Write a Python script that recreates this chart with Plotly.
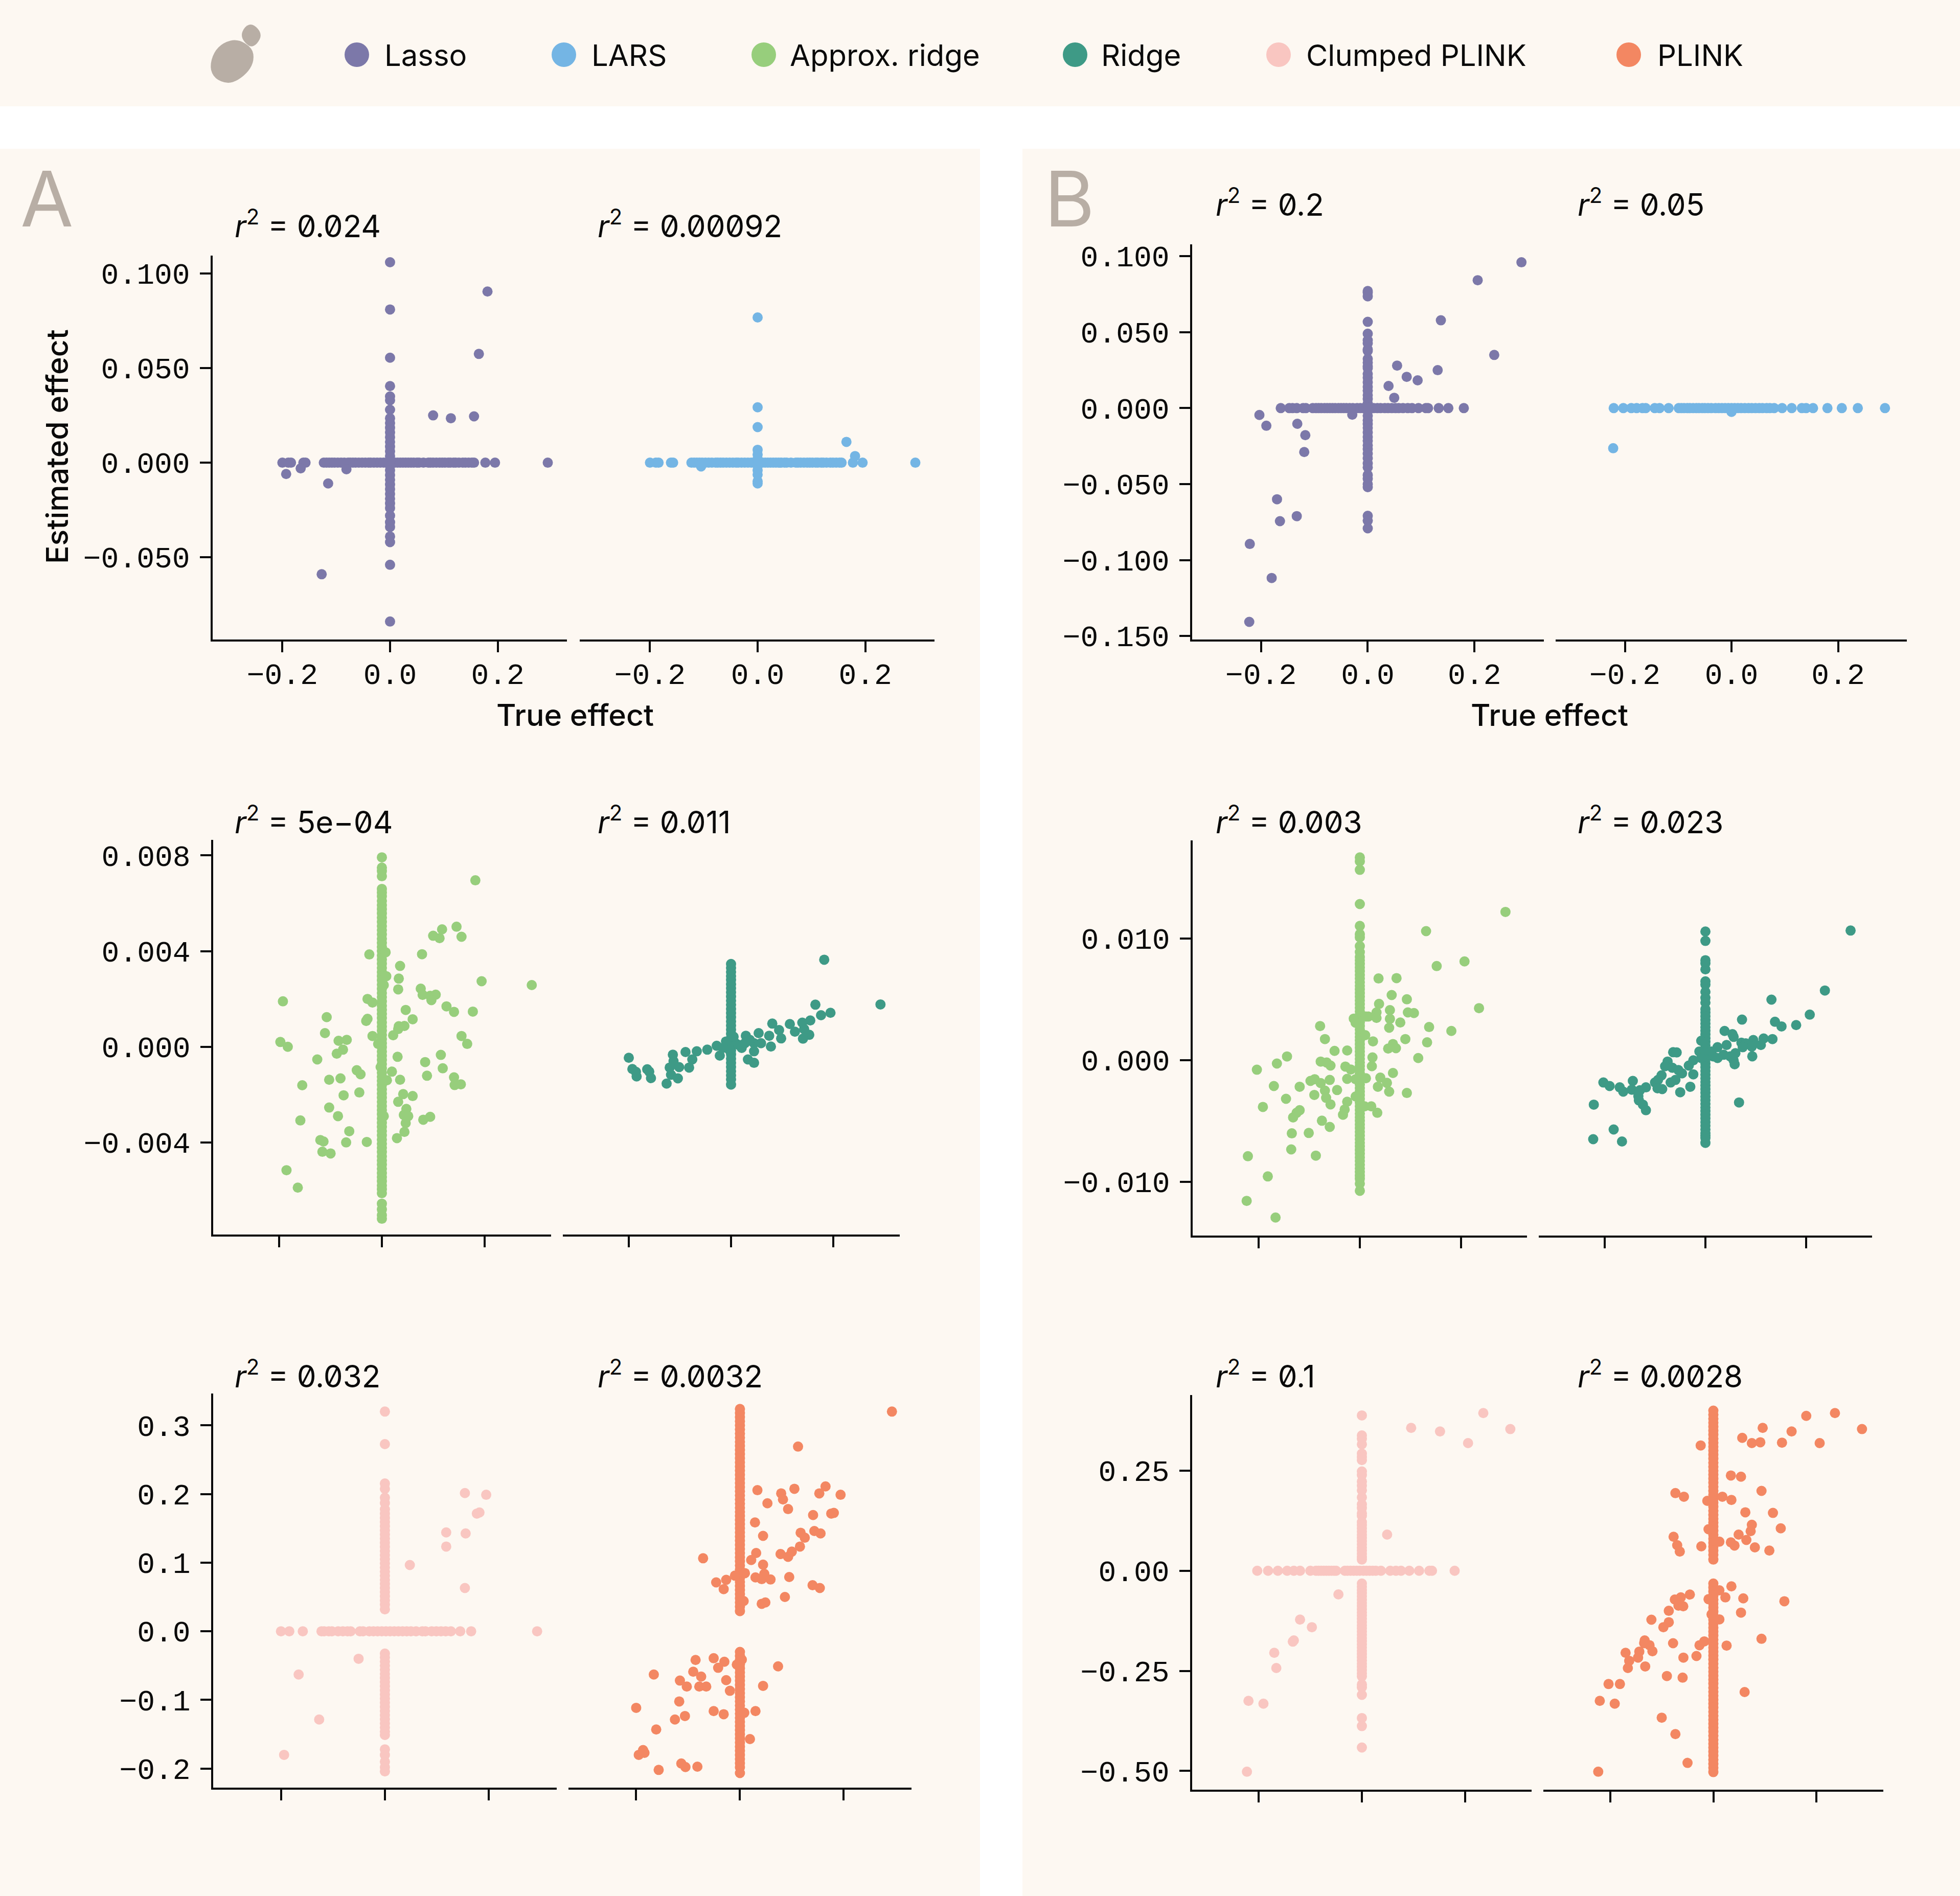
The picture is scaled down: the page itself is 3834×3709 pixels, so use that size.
import plotly.graph_objects as go

W = 3834
H = 3709

# method names and colours
methods = ["Lasso", "LARS", "Approx. ridge", "Ridge", "Clumped PLINK", "PLINK"]
colors = ["#7C78A9", "#74B5E4", "#97CE7C", "#3E9A86", "#F9C6C1", "#F38762"]

# r2 labels, column A then column B
r2_a = ["0.024", "0.00092", "5e−04", "0.011", "0.032", "0.0032"]
r2_b = ["0.2", "0.05", "0.003", "0.023", "0.1", "0.0028"]

# tick labels
x_ticks = [-0.2, 0.0, 0.2]
x_labels = ["−0.2", "0.0", "0.2"]
y_ticks_a1 = [0.1, 0.05, 0.0, -0.05]
y_labels_a1 = ["0.100", "0.050", "0.000", "−0.050"]
y_ticks_b1 = [0.1, 0.05, 0.0, -0.05, -0.1, -0.15]
y_labels_b1 = ["0.100", "0.050", "0.000", "−0.050", "−0.100", "−0.150"]
y_ticks_a2 = [0.008, 0.004, 0.0, -0.004]
y_labels_a2 = ["0.008", "0.004", "0.000", "−0.004"]
y_ticks_b2 = [0.01, 0.0, -0.01]
y_labels_b2 = ["0.010", "0.000", "−0.010"]
y_ticks_a3 = [0.3, 0.2, 0.1, 0.0, -0.1, -0.2]
y_labels_a3 = ["0.3", "0.2", "0.1", "0.0", "−0.1", "−0.2"]
y_ticks_b3 = [0.25, 0.0, -0.25, -0.5]
y_labels_b3 = ["0.25", "0.00", "−0.25", "−0.50"]

# points on y = 0 (true effects)
zero_a = [-0.200, -0.189, -0.184, -0.161, -0.157, -0.123, -0.118, -0.113, -0.108, -0.103, -0.097, -0.091,
          -0.085, -0.078, -0.074, -0.069, -0.064, -0.058, -0.052, -0.046, -0.040, -0.036, -0.030, -0.024,
          -0.018, -0.012, -0.007, -0.003, 0.004, 0.009, 0.014, 0.019, 0.024, 0.029, 0.034, 0.039, 0.044,
          0.050, 0.054, 0.062, 0.071, 0.075, 0.080, 0.086, 0.092, 0.097, 0.102, 0.108, 0.112, 0.118, 0.122,
          0.128, 0.135, 0.140, 0.146, 0.152, 0.156, 0.177, 0.195, 0.293]
zero_b_lasso = [-0.163, -0.147, -0.141, -0.133, -0.121, -0.116, -0.103, -0.097, -0.092, -0.087, -0.081, -0.076,
                -0.071, -0.066, -0.061, -0.055, -0.050, -0.045, -0.040, -0.034, -0.028, -0.020, -0.014, -0.008,
                0.005, 0.011, 0.018, 0.024, 0.032, 0.038, 0.045, 0.052, 0.058, 0.066, 0.075, 0.083, 0.095,
                0.109, 0.113, 0.133, 0.151, 0.180]
zero_b_lars = [-0.221, -0.203, -0.188, -0.178, -0.167, -0.161, -0.144, -0.135, -0.118, -0.099, -0.094, -0.089,
               -0.083, -0.078, -0.072, -0.066, -0.061, -0.055, -0.050, -0.044, -0.038, -0.030, -0.024, -0.018,
               -0.012, -0.006, 0.000, 0.006, 0.012, 0.018, 0.025, 0.032, 0.038, 0.045, 0.052, 0.058, 0.066,
               0.072, 0.080, 0.095, 0.113, 0.132, 0.140, 0.153, 0.180, 0.207, 0.237, 0.288]
zero_a_clumped = [-0.200, -0.184, -0.158, -0.122, -0.117, -0.108, -0.102, -0.090, -0.081, -0.072, -0.066, -0.048,
                  -0.042, -0.030, -0.022, -0.014, -0.006, 0.002, 0.010, 0.018, 0.026, 0.034, 0.042, 0.050,
                  0.060, 0.072, 0.078, 0.090, 0.099, 0.108, 0.117, 0.127, 0.145, 0.166, 0.293]
zero_b_clumped = [-0.203, -0.182, -0.163, -0.145, -0.132, -0.120, -0.100, -0.089, -0.084, -0.079, -0.074, -0.069,
                  -0.064, -0.059, -0.054, -0.050, -0.033, -0.028, -0.022, -0.016, -0.010, -0.004, 0.003, 0.009,
                  0.015, 0.021, 0.027, 0.037, 0.055, 0.066, 0.076, 0.092, 0.111, 0.131, 0.136, 0.180]

# points on x = 0 (estimated effects)
lasso_a_v = [0.106, 0.081, 0.0555, 0.0405, 0.035, 0.033, 0.028, 0.0235, 0.021, 0.0185, 0.016, 0.0135, 0.011, 0.0085,
             0.006, 0.0035, 0.001, -0.0015, -0.004, -0.0065, -0.009, -0.0115, -0.014, -0.0165, -0.019, -0.0215,
             -0.024, -0.028, -0.0315, -0.034, -0.039, -0.042, -0.054, -0.084]
lars_a_v = [0.0768, 0.0293, 0.0188, 0.0068, 0.0043, 0.002, -0.0015, -0.004, -0.0063, -0.0098, -0.011]
lasso_b_v = [0.0771, 0.0761, 0.0736, 0.0568, 0.049, 0.0447, 0.0427, 0.0387, 0.0377, 0.0324, 0.030, 0.0276, 0.0264,
             0.0226, 0.020, 0.017, 0.014, 0.0115, 0.0085, 0.006, 0.003, 0.0005, -0.002, -0.005, -0.008, -0.0105,
             -0.013, -0.016, -0.019, -0.0215, -0.0245, -0.027, -0.03, -0.033, -0.0364, -0.039, -0.044, -0.0465,
             -0.050, -0.052, -0.0709, -0.0741, -0.0791]
approx_a_v = [0.00792, 0.00749, 0.00735, 0.00713, 0.0066, 0.00645, 0.0063, 0.0061, 0.00592, 0.00575, 0.00558, 0.0054,
              0.00522, 0.00505, 0.00488, 0.0047, 0.00452, 0.00435, 0.00418, 0.004, 0.00382, 0.00365, 0.00348, 0.0033,
              0.00312, 0.00295, 0.00278, 0.0026, 0.00242, 0.00225, 0.00208, 0.0019, 0.00172, 0.00155, 0.00138, 0.0012,
              0.00102, 0.00085, 0.00068, 0.0005, 0.00032, 0.00015, -0.00002, -0.0002, -0.00038, -0.00055, -0.00072,
              -0.0009, -0.00108, -0.00125, -0.00142, -0.0016, -0.00178, -0.00195, -0.00212, -0.0023, -0.00248, -0.00265,
              -0.00282, -0.003, -0.00318, -0.00335, -0.00352, -0.0037, -0.00388, -0.00405, -0.00422, -0.0044, -0.00458,
              -0.00475, -0.00492, -0.0051, -0.00528, -0.00545, -0.00562, -0.0058, -0.00596, -0.00612, -0.00656, -0.0068,
              -0.00704, -0.00719]
ridge_a_v = [0.00346, 0.0033, 0.00313, 0.00296, 0.0028, 0.00262, 0.00245, 0.00228, 0.0021, 0.00193, 0.00176, 0.00158,
             0.00141, 0.00124, 0.00106, 0.00089, 0.00072, 0.00054, 0.00037, 0.0002, 0.00002, -0.00015, -0.00032, -0.0005,
             -0.00067, -0.00084, -0.00102, -0.00119, -0.00136, -0.00158]
approx_b_v = [0.01665, 0.01633, 0.01563, 0.01282, 0.01102, 0.01035, 0.01008, 0.00936, 0.00887, 0.00847, 0.0082, 0.0079,
              0.0076, 0.0073, 0.007, 0.0067, 0.0064, 0.0061, 0.0058, 0.0055, 0.0052, 0.0049, 0.0046, 0.0043, 0.004, 0.0037,
              0.0034, 0.0031, 0.0028, 0.0025, 0.0022, 0.0019, 0.0016, 0.0013, 0.001, 0.0007, 0.0004, 0.0001, -0.0002,
              -0.0005, -0.0008, -0.0011, -0.0014, -0.0017, -0.002, -0.0023, -0.0026, -0.0029, -0.0032, -0.0035, -0.0038,
              -0.0041, -0.0044, -0.0047, -0.005, -0.0053, -0.0056, -0.0059, -0.0062, -0.0065, -0.0068, -0.0071, -0.0074,
              -0.0077, -0.008, -0.0083, -0.0086, -0.0089, -0.0092, -0.0095, -0.00976, -0.01016, -0.01075]
ridge_b_v = [0.01056, 0.00979, 0.0082, 0.00794, 0.00745, 0.00646, 0.0062, 0.0056, 0.00512, 0.00472, 0.00418, 0.0039,
             0.0036, 0.0033, 0.003, 0.0027, 0.0024, 0.0021, 0.0018, 0.0015, 0.0012, 0.0009, 0.0006, 0.0003, 0.0, -0.0003,
             -0.0006, -0.0009, -0.0012, -0.0015, -0.0018, -0.0021, -0.0024, -0.0027, -0.003, -0.0033, -0.0036, -0.0039,
             -0.0042, -0.0045, -0.0048, -0.0051, -0.0054, -0.0057, -0.006, -0.0062, -0.0064, -0.00681]
clumped_a_v = [0.32, 0.2726, 0.2153, 0.2075, 0.1946, 0.187, 0.1776, 0.1714, 0.165, 0.159, 0.153, 0.147, 0.141, 0.135,
               0.129, 0.123, 0.117, 0.111, 0.105, 0.099, 0.093, 0.087, 0.081, 0.075, 0.069, 0.063, 0.057, 0.051, 0.045,
               0.039, 0.032, -0.0325, -0.038, -0.044, -0.05, -0.056, -0.062, -0.068, -0.074, -0.08, -0.086, -0.092,
               -0.098, -0.104, -0.11, -0.116, -0.122, -0.128, -0.134, -0.14, -0.146, -0.151, -0.172, -0.18, -0.19,
               -0.198, -0.204]
plink_a_v = [0.3237, 0.318, 0.312, 0.306, 0.3, 0.294, 0.288, 0.282, 0.276, 0.27, 0.264, 0.258, 0.252, 0.246, 0.24, 0.234,
             0.228, 0.222, 0.216, 0.21, 0.204, 0.198, 0.192, 0.186, 0.18, 0.174, 0.168, 0.162, 0.156, 0.15, 0.144, 0.138,
             0.132, 0.126, 0.12, 0.114, 0.108, 0.102, 0.096, 0.09, 0.084, 0.078, 0.072, 0.066, 0.06, 0.054, 0.048, 0.042,
             0.036, 0.0294, -0.03, -0.036, -0.042, -0.048, -0.054, -0.06, -0.066, -0.072, -0.078, -0.084, -0.09, -0.096,
             -0.102, -0.108, -0.114, -0.12, -0.126, -0.132, -0.138, -0.144, -0.15, -0.156, -0.162, -0.168, -0.174, -0.18,
             -0.186, -0.192, -0.198, -0.2065]
clumped_b_v = [0.388, 0.338, 0.33, 0.316, 0.2926, 0.2837, 0.2766, 0.248, 0.239, 0.223, 0.2128, 0.201, 0.1835, 0.166,
               0.157, 0.1436, 0.1374, 0.1215, 0.114, 0.106, 0.098, 0.09, 0.082, 0.074, 0.066, 0.058, 0.05, 0.042, 0.035,
               0.028, -0.032, -0.04, -0.048, -0.056, -0.064, -0.072, -0.08, -0.088, -0.096, -0.104, -0.112, -0.12, -0.128,
               -0.136, -0.144, -0.152, -0.16, -0.168, -0.176, -0.184, -0.192, -0.2, -0.208, -0.216, -0.224, -0.232, -0.24,
               -0.248, -0.256, -0.264, -0.284, -0.291, -0.31, -0.368, -0.388, -0.4415]
plink_b_v = [0.40, 0.39, 0.38, 0.37, 0.36, 0.35, 0.34, 0.33, 0.32, 0.31, 0.30, 0.29, 0.28, 0.27, 0.26, 0.25, 0.24, 0.23,
             0.22, 0.21, 0.20, 0.19, 0.18, 0.17, 0.16, 0.15, 0.14, 0.13, 0.12, 0.11, 0.10, 0.09, 0.08, 0.07, 0.06, 0.05,
             0.04, 0.028, -0.032, -0.042, -0.052, -0.062, -0.072, -0.082, -0.092, -0.102, -0.112, -0.122, -0.132, -0.142,
             -0.152, -0.162, -0.172, -0.182, -0.192, -0.202, -0.212, -0.222, -0.232, -0.242, -0.252, -0.262, -0.272,
             -0.282, -0.292, -0.302, -0.312, -0.322, -0.332, -0.342, -0.352, -0.362, -0.372, -0.382, -0.392, -0.402,
             -0.412, -0.422, -0.432, -0.442, -0.452, -0.462, -0.472, -0.482, -0.492, -0.503]

# remaining points as (true, estimated)
lasso_a_off = [(-0.127, -0.059), (-0.193, -0.006), (-0.166, -0.003), (-0.115, -0.011), (-0.081, -0.0035), (0.080, 0.025),
               (0.113, 0.0235), (0.156, 0.0245), (0.165, 0.0575), (0.181, 0.0905)]
lars_a_off = [(-0.105, -0.002), (0.165, 0.011), (0.181, 0.0035)]
lasso_b_off = [(-0.203, -0.0045), (-0.190, -0.0116), (-0.132, -0.0103), (-0.117, -0.0178), (-0.119, -0.0289),
               (-0.170, -0.060), (-0.1645, -0.0744), (-0.133, -0.0711), (-0.221, -0.0894), (-0.180, -0.1118),
               (-0.222, -0.1407), (-0.029, -0.0043), (0.0496, 0.0068), (0.039, 0.0146), (0.073, 0.0206), (0.0935, 0.0183),
               (0.055, 0.028), (0.131, 0.025), (0.137, 0.0578), (0.237, 0.035), (0.206, 0.0842), (0.288, 0.096)]
lars_b_off = [(-0.222, -0.0264), (0.0, -0.0025)]
approx_a_off = [(-0.193, 0.0019), (-0.198, 0.0002), (-0.1835, 0.0), (-0.1076, 0.00124), (-0.111, 0.00057), (-0.0844, 0.00025),
                (-0.0685, 0.00029), (-0.0758, -0.00012), (-0.088, -0.00029), (-0.126, -0.00053), (-0.049, -0.00098),
                (-0.0416, -0.00115), (-0.1028, -0.00138), (-0.0807, -0.00132), (-0.1553, -0.00161), (-0.0746, -0.00203),
                (-0.044, -0.00191), (-0.1028, -0.00254), (-0.0856, -0.0029), (-0.159, -0.00308), (-0.0636, -0.00353),
                (-0.12, -0.0039), (-0.1138, -0.00396), (-0.0697, -0.004), (-0.0294, -0.00398), (-0.116, -0.00439),
                (-0.1, -0.00446), (-0.186, -0.00516), (-0.164, -0.00589), (-0.0245, 0.00386), (0.0073, 0.00395),
                (0.0086, 0.00295), (0.0355, 0.00338), (0.033, 0.00285), (0.0037, 0.00258), (0.0318, 0.0024), (-0.028, 0.002),
                (-0.0183, 0.00185), (-0.028, 0.00117), (-0.0306, 0.00108), (-0.0183, 0.00045), (-0.0073, 0.00012),
                (0.033, 0.00086), (0.044, 0.00087), (0.0318, 0.00074), (0.022, 0.00048), (0.0465, 0.00154), (0.06, 0.00115),
                (0.0306, -0.00042), (-0.0024, -0.00085), (0.0196, -0.00104), (0.0098, -0.0014), (0.0355, -0.00138),
                (0.0416, -0.00198), (0.06, -0.00206), (0.0318, -0.0023), (0.0477, -0.0026), (0.0428, -0.00285),
                (0.0514, -0.0029), (0.0465, -0.00319), (0.044, -0.00356), (0.0294, -0.00382), (0.0037, -0.0029),
                (0.0807, -0.00305), (0.0942, -0.00293), (0.0844, -0.00064), (0.088, -0.00121), (0.115, -0.00034),
                (0.1187, -0.0009), (0.1407, -0.00128), (0.1419, -0.0016), (0.154, -0.00157), (0.1553, 0.00045),
                (0.1664, 0.00012), (0.0783, 0.00387), (0.1, 0.00464), (0.1125, 0.00454), (0.1174, 0.00491), (0.1456, 0.00502),
                (0.1553, 0.0046), (0.1823, 0.00696), (0.1945, 0.00274), (0.2923, 0.00258), (0.0758, 0.00243), (0.0795, 0.00217),
                (0.0942, 0.00213), (0.105, 0.00218), (0.0966, 0.00195), (0.126, 0.00169), (0.1407, 0.00146), (0.1774, 0.00147)]
ridge_a_off = [(0.1823, 0.00364), (0.2923, 0.00177), (0.165, 0.00176), (0.176, 0.00132), (0.1945, 0.00142), (0.155, 0.0011),
               (0.1394, 0.00101), (0.115, 0.00095), (0.0807, 0.00097), (0.054, 0.00057), (0.094, 0.0007), (0.125, 0.00063),
               (0.143, 0.00074), (0.153, 0.0005), (0.1407, 0.00034), (0.0746, 0.00046), (0.098, 0.00035), (0.078, 0.00001),
               (0.029, 0.00046), (0.045, 0.00015), (0.0587, 0.00015), (0.045, -0.00019), (0.0208, -0.00005), (0.033, -0.00053),
               (0.045, -0.00067), (-0.0098, 0.00022), (-0.028, 0.00004), (-0.022, -0.00037), (-0.0465, -0.00012),
               (-0.067, -0.00019), (-0.089, -0.00022), (-0.1138, -0.00033), (-0.0758, -0.00053), (-0.1125, -0.0006),
               (-0.12, -0.00087), (-0.1015, -0.00085), (-0.082, -0.00087), (-0.1174, -0.00117), (-0.104, -0.00132),
               (-0.126, -0.00154), (-0.1566, -0.00131), (-0.164, -0.00094), (-0.16, -0.00104), (-0.1847, -0.00124),
               (-0.186, -0.00105), (-0.193, -0.00093), (-0.2, -0.00046), (0.0086, 0.00015), (0.0147, 0.00008), (0.027, 0.00015),
               (0.0367, 0.00029), (-0.0037, -0.00012), (-0.016, -0.00005), (0.005, 0.00042)]
approx_b_off = [(0.288, 0.01217), (0.131, 0.01059), (0.207, 0.0081), (0.152, 0.00772), (0.2357, 0.00426), (0.037, 0.0067),
                (0.0726, 0.00673), (0.063, 0.00534), (0.093, 0.00499), (0.038, 0.00461), (0.0595, 0.0041), (0.033, 0.00391),
                (0.095, 0.00391), (0.107, 0.00386), (0.0167, 0.00357), (0.012, 0.00357), (0.0595, 0.00338), (0.033, 0.00346),
                (0.08, 0.00308), (0.058, 0.00265), (0.137, 0.00271), (0.181, 0.00239), (-0.012, 0.0034), (-0.0083, 0.00306),
                (-0.0786, 0.00279), (0.0107, 0.00204), (-0.069, 0.00172), (0.026, 0.00153), (0.09, 0.00172), (0.133, 0.00145),
                (0.0655, 0.00131), (0.056, 0.00094), (0.0714, 0.00097), (-0.05, 0.00075), (-0.025, 0.00078), (-0.144, 0.00029),
                (0.1155, 0.00016), (0.025, 0.00021), (-0.0774, -0.00013), (-0.0655, -0.00021), (-0.164, -0.00029), (-0.058, -0.00046),
                (0.0238, -0.00051), (-0.0286, -0.00054), (-0.0179, -0.00078), (-0.2036, -0.0008), (0.0655, -0.00107),
                (0.0405, -0.00145), (0.012, -0.0015), (-0.025, -0.00155), (-0.0083, -0.00158), (-0.0893, -0.00158),
                (-0.0976, -0.00172), (-0.0595, -0.00164), (-0.0774, -0.0019), (0.0536, -0.00188), (-0.119, -0.0022),
                (-0.17, -0.00214), (0.0357, -0.0022), (-0.069, -0.00252), (-0.045, -0.00247), (0.058, -0.0026), (0.093, -0.00271),
                (-0.09, -0.00287), (-0.0667, -0.00311), (-0.146, -0.00319), (-0.0083, -0.003), (-0.025, -0.00343),
                (-0.058, -0.00365), (0.0095, -0.00381), (0.0226, -0.00381), (-0.1917, -0.00386), (-0.03, -0.00407),
                (-0.119, -0.00413), (-0.125, -0.00434), (0.0345, -0.00434), (-0.0333, -0.0045), (-0.132, -0.00472),
                (-0.075, -0.00499), (-0.0595, -0.0055), (-0.101, -0.006), (-0.1345, -0.00603), (-0.1357, -0.00735),
                (-0.087, -0.00786), (-0.2214, -0.00791), (-0.182, -0.00957), (-0.2238, -0.01158), (-0.1667, -0.01295)]
ridge_b_off = [(0.288, 0.01064), (0.237, 0.00571), (0.131, 0.00496), (0.207, 0.00373), (0.0726, 0.00332), (0.138, 0.00314),
               (0.151, 0.00276), (0.18, 0.00287), (0.038, 0.00239), (0.0536, 0.00212), (0.056, 0.0019), (0.133, 0.00172),
               (0.1155, 0.00177), (0.095, 0.00164), (0.0714, 0.00142), (0.08, 0.00137), (0.11, 0.00123), (0.092, 0.0011),
               (0.074, 0.00105), (0.042, 0.00123), (0.024, 0.00105), (0.0595, 0.00056), (0.093, 0.0003), (0.049, 0.0003),
               (0.036, 0.00043), (0.012, 0.0007), (0.0155, 0.0003), (0.024, 0.00016), (0.056, -0.00003), (0.058, -0.00035),
               (-0.0083, 0.00158), (-0.012, 0.0007), (-0.0083, 0.00016), (-0.064, 0.00064), (-0.057, 0.00062), (-0.033, -0.00046),
               (-0.024, -0.00003), (-0.024, -0.00118), (-0.075, -0.00013), (-0.08, -0.00051), (-0.0655, -0.00064),
               (-0.0536, -0.00083), (-0.0464, -0.0011), (-0.087, -0.00126), (-0.094, -0.00164), (-0.0595, -0.00164),
               (-0.069, -0.00185), (-0.1, -0.00185), (-0.095, -0.00233), (-0.0857, -0.00239), (-0.03, -0.0022), (-0.05, -0.00265),
               (-0.118, -0.00225), (-0.144, -0.00172), (-0.17, -0.00225), (-0.2024, -0.00185), (-0.19, -0.00214),
               (-0.163, -0.0026), (-0.146, -0.00244), (-0.13, -0.00249), (-0.133, -0.00298), (-0.132, -0.00332),
               (-0.124, -0.00367), (-0.118, -0.00413), (-0.2214, -0.00367), (-0.182, -0.00571), (-0.2226, -0.00651),
               (-0.1655, -0.0067), (0.0667, -0.00349)]
clumped_a_off = [(-0.194, -0.18), (-0.1265, -0.1285), (-0.166, -0.063), (-0.0506, -0.04), (0.048, 0.0965), (0.118, 0.1234),
                 (0.118, 0.144), (0.1554, 0.1425), (0.154, 0.063), (0.177, 0.1714), (0.182, 0.173), (0.154, 0.2013), (0.195, 0.1988)]
plink_a_off = [(0.293, 0.32), (0.112, 0.269), (0.165, 0.211), (0.105, 0.2075), (0.0337, 0.2055), (0.0795, 0.2008), (0.153, 0.2008),
               (0.194, 0.1988), (0.083, 0.192), (0.053, 0.1864), (0.0928, 0.178), (0.141, 0.1693), (0.181, 0.1724), (0.176, 0.1714),
               (0.029, 0.1585), (0.117, 0.1435), (0.1434, 0.146), (0.1554, 0.1425), (0.125, 0.1363), (0.0446, 0.139), (0.1157, 0.1234),
               (0.1, 0.116), (0.0783, 0.1125), (0.0928, 0.1084), (0.0313, 0.114), (-0.071, 0.1063), (0.0217, 0.1038), (0.0446, 0.097),
               (0.0096, 0.0847), (0.047, 0.0836), (0.03, 0.0785), (0.042, 0.076), (0.059, 0.0754), (0.095, 0.079), (-0.0096, 0.081),
               (-0.0265, 0.0749), (-0.0458, 0.0712), (-0.0313, 0.0614), (0.14, 0.0671), (0.154, 0.063), (0.0867, 0.05), (0.0072, 0.044),
               (0.042, 0.04), (0.049, 0.042), (-0.0506, -0.0392), (-0.0855, -0.0418), (-0.03, -0.0444), (0.0036, -0.0413),
               (-0.006, -0.0485), (0.0735, -0.0511), (-0.042, -0.0532), (-0.09, -0.0589), (-0.166, -0.063), (-0.0747, -0.066),
               (-0.1157, -0.0718), (-0.0265, -0.0712), (-0.1024, -0.0805), (-0.0783, -0.0805), (-0.065, -0.0805), (0.0446, -0.0795),
               (-0.0193, -0.0867), (-0.117, -0.1022), (-0.2, -0.1115), (-0.0506, -0.1162), (-0.0313, -0.1208), (0.0084, -0.1187),
               (0.03, -0.1162), (-0.106, -0.1234), (-0.1253, -0.1285), (-0.1614, -0.143), (0.0193, -0.157), (-0.1867, -0.173),
               (-0.195, -0.18), (-0.184, -0.177), (-0.113, -0.1926), (-0.105, -0.1977), (-0.082, -0.1972), (-0.1566, -0.2019)]
clumped_b_off = [(-0.223, -0.502), (-0.22, -0.325), (-0.191, -0.332), (-0.166, -0.243), (-0.17, -0.205), (-0.134, -0.177),
                 (-0.132, -0.174), (-0.12, -0.122), (-0.097, -0.141), (-0.0455, -0.059), (0.049, 0.0904), (0.0956, 0.357),
                 (0.1516, 0.348), (0.206, 0.319), (0.2356, 0.394), (0.288, 0.354)]
plink_b_off = [(0.2356, 0.394), (0.18, 0.387), (0.288, 0.354), (0.0956, 0.357), (0.1516, 0.348), (0.056, 0.332), (0.0746, 0.319),
               (0.091, 0.321), (0.133, 0.32), (0.206, 0.319), (-0.0245, 0.313), (0.034, 0.238), (0.0536, 0.235), (0.0933, 0.1995),
               (-0.0735, 0.194), (-0.057, 0.185), (-0.0117, 0.1746), (0.0175, 0.185), (0.035, 0.177), (0.062, 0.146), (0.1155, 0.1445),
               (0.0746, 0.115), (0.0723, 0.099), (0.1306, 0.106), (-0.0093, 0.1037), (-0.077, 0.085), (0.049, 0.0904), (0.064, 0.077),
               (0.0117, 0.0727), (0.034, 0.071), (0.041, 0.063), (-0.07, 0.0638), (-0.0233, 0.061), (0.0805, 0.0585), (-0.065, 0.048),
               (0.1085, 0.0505), (0.035, -0.039), (0.0117, -0.0488), (-0.0455, -0.0594), (-0.063, -0.0665), (-0.0746, -0.0718),
               (-0.0676, -0.087), (-0.0583, -0.0887), (0.0233, -0.0665), (0.058, -0.069), (-0.0093, -0.071), (0.1376, -0.0762),
               (-0.0863, -0.1), (0.0536, -0.1046), (-0.0035, -0.109), (-0.12, -0.1223), (0.0117, -0.1215), (-0.0863, -0.1285),
               (-0.0968, -0.141), (-0.133, -0.174), (-0.134, -0.181), (-0.1236, -0.186), (-0.118, -0.201), (-0.078, -0.181),
               (-0.0268, -0.186), (-0.0175, -0.1764), (0.0257, -0.187), (0.0933, -0.17), (-0.17, -0.205), (-0.1434, -0.202),
               (-0.1458, -0.217), (-0.163, -0.225), (-0.1656, -0.243), (-0.132, -0.239), (-0.058, -0.217), (-0.0327, -0.213),
               (-0.09, -0.263), (-0.0595, -0.267), (-0.203, -0.283), (-0.181, -0.283), (-0.22, -0.325), (-0.191, -0.332),
               (0.0606, -0.303), (-0.1, -0.367), (-0.0735, -0.408), (-0.05, -0.48), (-0.223, -0.502)]

BG = "#FDF8F2"
GREY = "#B8AEA5"
INK = "#0A0A0A"
TEXT_FONT = "Inter"
MONO_FONT = "Liberation Mono"


def px(x, y):
    return x / W, 1 - y / H


def dom(a, b, size):
    return [a / size, b / size]


# pixel box of each panel: left, right, top, bottom, xrange, yrange, yticks, ylabels, xlabels, r2 label x, baseline
panels = [
    (0, 416, 1109, 500, 1251, (-0.3295, 0.3286), (-0.0935, 0.1095), y_ticks_a1, y_labels_a1, True, 459, 460, r2_a[0]),
    (1, 1134, 1828, 500, 1251, (-0.3305, 0.3286), (-0.0935, 0.1095), None, None, True, 1169, 460, r2_a[1]),
    (2, 417, 1078, 1643, 2415, (-0.329, 0.330), (-0.00785, 0.00865), y_ticks_a2, y_labels_a2, False, 459, 1626, r2_a[2]),
    (3, 1101, 1760, 1643, 2415, (-0.329, 0.330), (-0.00785, 0.00865), None, None, False, 1169, 1626, r2_a[3]),
    (4, 417, 1089, 2726, 3497, (-0.3305, 0.3307), (-0.2277, 0.3463), y_ticks_a3, y_labels_a3, False, 459, 2710, r2_a[4]),
    (5, 1112, 1783, 2726, 3497, (-0.3305, 0.3307), (-0.2277, 0.3463), None, None, False, 1169, 2710, r2_a[5]),
    (0, 2332, 3020, 478, 1251, (-0.329, 0.330), (-0.1523, 0.1078), y_ticks_b1, y_labels_b1, True, 2378, 418, r2_b[0]),
    (1, 3043, 3730, 478, 1251, (-0.330, 0.329), (-0.1523, 0.1078), None, None, True, 3086, 418, r2_b[1]),
    (2, 2333, 2987, 1644, 2417, (-0.3306, 0.3306), (-0.01443, 0.01805), y_ticks_b2, y_labels_b2, False, 2378, 1626, r2_b[2]),
    (3, 3010, 3662, 1644, 2417, (-0.3306, 0.3306), (-0.01443, 0.01805), None, None, False, 3086, 1626, r2_b[3]),
    (4, 2332, 2996, 2729, 3501, (-0.3293, 0.3293), (-0.5469, 0.439), y_ticks_b3, y_labels_b3, False, 2378, 2710, r2_b[4]),
    (5, 3019, 3684, 2729, 3501, (-0.3293, 0.3293), (-0.5469, 0.439), None, None, False, 3086, 2710, r2_b[5]),
]

panel_points = [
    (zero_a, lasso_a_v, lasso_a_off), (zero_a, lars_a_v, lars_a_off),
    ([], approx_a_v, approx_a_off), ([], ridge_a_v, ridge_a_off),
    (zero_a_clumped, clumped_a_v, clumped_a_off), ([], plink_a_v, plink_a_off),
    (zero_b_lasso, lasso_b_v, lasso_b_off), (zero_b_lars, [], lars_b_off),
    ([], approx_b_v, approx_b_off), ([], ridge_b_v, ridge_b_off),
    (zero_b_clumped, clumped_b_v, clumped_b_off), ([], plink_b_v, plink_b_off),
]

fig = go.Figure()
shapes = []
annotations = []


def box(x0, y0, x1, y1, color):
    a, b = px(x0, y0)
    c, d = px(x1, y1)
    shapes.append(dict(type="rect", xref="paper", yref="paper", x0=a, y0=b, x1=c, y1=d,
                       fillcolor=color, line_width=0, layer="below"))


def label(text, x, y, size, color=INK, xanchor="left", angle=0, weight=400):
    a, b = px(x, y)
    annotations.append(dict(text=text, x=a, y=b, xref="paper", yref="paper", xanchor=xanchor, yanchor="middle",
                            showarrow=False, textangle=angle, borderpad=0, borderwidth=0,
                            align="left" if xanchor == "left" else "center",
                            font=dict(family=TEXT_FONT, size=size, color=color, weight=weight)))


def blob(points):
    # closed smooth outline through the midpoints
    n = len(points)
    mids = [((points[i][0] + points[(i + 1) % n][0]) / 2, (points[i][1] + points[(i + 1) % n][1]) / 2) for i in range(n)]
    a, b = px(*mids[-1])
    path = f"M {a} {b}"
    for i in range(n):
        c, d = px(*points[i])
        e, f = px(*mids[i])
        path += f" Q {c} {d} {e} {f}"
    shapes.append(dict(type="path", path=path + " Z", xref="paper", yref="paper", fillcolor=GREY, line_width=0))


# backgrounds
box(0, 0, W, 208, BG)
box(0, 291, 1917, H, BG)
box(2000, 291, W, H, BG)

# yeast icon
blob([(465, 76), (494, 94), (497, 118), (487, 139), (466, 157), (445, 164), (420, 154), (410, 132), (418, 102), (437, 83)])
blob([(495, 46), (513, 66), (503, 87), (488, 93), (470, 72), (479, 51)])

# legend row
legend_dot_x = [698, 1103, 1494, 2103, 2501, 3186]
legend_text_x = [752, 1157, 1545, 2154, 2555, 3242]
for name, color, dx, tx in zip(methods, colors, legend_dot_x, legend_text_x):
    a, b = px(dx - 24, 107 - 24)
    c, d = px(dx + 24, 107 + 24)
    shapes.append(dict(type="circle", xref="paper", yref="paper", x0=a, y0=b, x1=c, y1=d, fillcolor=color, line_width=0))
    label(name, tx, 108, 58)

# panel letters
label("A", 40, 388, 150, color=GREY, weight=400)
label("B", 2043, 388, 150, color=GREY, weight=400)

# axis titles
label("Estimated effect", 112, 874, 59, xanchor="center", angle=-90, weight=500)
label("True effect", 1125, 1398, 59, xanchor="center", weight=500)
label("True effect", 3031, 1398, 59, xanchor="center", weight=500)

layout_axes = {}
for i, (p, pts) in enumerate(zip(panels, panel_points)):
    method, left, right, top, bottom, xr, yr, yt, yl, xlab, rx, ry, r2 = p
    zero, vert, off = pts
    off_x = [q[0] for q in off]
    off_y = [q[1] for q in off]
    suffix = "" if i == 0 else str(i + 1)
    fig.add_trace(go.Scatter(
        x=zero + [0.0] * len(vert) + off_x,
        y=[0.0] * len(zero) + vert + off_y,
        mode="markers",
        name=methods[method],
        showlegend=False,
        xaxis="x" + suffix,
        yaxis="y" + suffix,
        cliponaxis=False,
        marker=dict(size=20, color=colors[method], line_width=0),
    ))
    layout_axes["xaxis" + suffix] = dict(
        domain=dom(left, right, W), range=list(xr), anchor="y" + suffix, automargin=False,
        tickmode="array", tickvals=x_ticks, ticktext=x_labels, showticklabels=xlab,
        ticks="outside", ticklen=21, tickwidth=3.5, tickcolor=INK,
        showline=True, linewidth=3.5, linecolor=INK, showgrid=False, zeroline=False,
        tickfont=dict(family=MONO_FONT, size=58, color=INK), ticklabelstandoff=-7,
    )
    y_dom = [1 - bottom / H, 1 - top / H]
    if yt is None:
        layout_axes["yaxis" + suffix] = dict(domain=y_dom, range=list(yr), anchor="x" + suffix, visible=False, automargin=False)
    else:
        layout_axes["yaxis" + suffix] = dict(
            domain=y_dom, range=list(yr), anchor="x" + suffix, automargin=False,
            tickmode="array", tickvals=yt, ticktext=yl,
            ticks="outside", ticklen=21, tickwidth=3.5, tickcolor=INK,
            showline=True, linewidth=3.5, linecolor=INK, showgrid=False, zeroline=False,
            tickfont=dict(family=MONO_FONT, size=58, color=INK), ticklabelstandoff=8,
        )
    label(f"<i>r</i><sup>2</sup> = {r2}", rx, ry - 22, 60)

fig.update_layout(
    width=W, height=H,
    margin=dict(l=0, r=0, t=0, b=0, autoexpand=False),
    paper_bgcolor="white",
    plot_bgcolor="rgba(0,0,0,0)",
    showlegend=False,
    shapes=shapes,
    annotations=annotations,
    **layout_axes,
)

# no page margin, slashed zero in the r2 labels
page_css = ("var s=document.createElement('style');"
            "s.textContent='body{margin:0;}.annotation-text{font-feature-settings:\"zero\" 1;}';"
            "document.head.appendChild(s);")
fig.write_html("out.html", post_script=page_css, config={"displayModeBar": False})
